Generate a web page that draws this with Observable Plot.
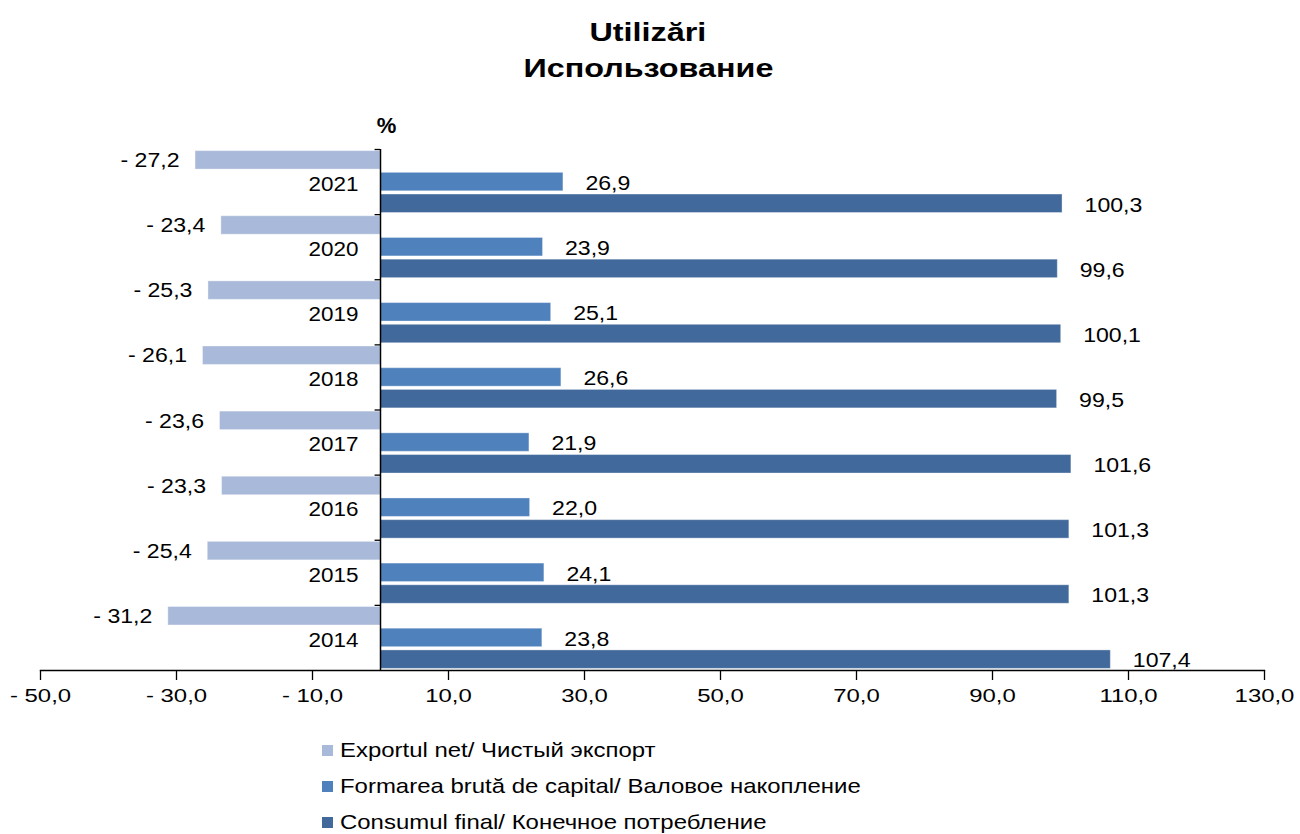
<!DOCTYPE html>
<html>
<head>
<meta charset="utf-8">
<script src="https://cdn.jsdelivr.net/npm/d3@7"></script>
<script src="https://cdn.jsdelivr.net/npm/@observablehq/plot@0.6"></script>
<style>
  html, body { margin: 0; padding: 0; background: #fff; }
  body { width: 1300px; height: 834px; overflow: hidden; font-family: "Liberation Sans", Arial, sans-serif; color: #000; }
  #title { padding-top: 14px; height: 81px; text-align: center; font-weight: bold; font-size: 26.5px; line-height: 36px; padding-right: 4px; }
  #title div span { display: inline-block; transform: scaleX(1.22); transform-origin: center; }
  #chart svg { display: block; }
  #legend { padding-left: 322px; padding-top: 17px; font-size: 21px; }
  .row { height: 36px; display: flex; align-items: center; }
  .sw { width: 11px; height: 11px; margin-right: 7px; flex: none; }
  .lt { display: inline-block; transform: scaleX(1.14); transform-origin: left center; white-space: nowrap; }
</style>
</head>
<body>
<div id="title"><div><span>Utilizări</span></div><div><span>Использование</span></div></div>
<div id="chart"></div>
<div id="legend"></div>
<script>
const years = [2021, 2020, 2019, 2018, 2017, 2016, 2015, 2014];
const exportNet = [-27.2, -23.4, -25.3, -26.1, -23.6, -23.3, -25.4, -31.2];
const grossCapital = [26.9, 23.9, 25.1, 26.6, 21.9, 22.0, 24.1, 23.8];
const finalConsumption = [100.3, 99.6, 100.1, 99.5, 101.6, 101.3, 101.3, 107.4];
const seriesKeys = ["E", "F", "C"];
const seriesLabels = [
  "Exportul net/ Чистый экспорт",
  "Formarea brută de capital/ Валовое накопление",
  "Consumul final/ Конечное потребление"
];
const seriesColors = ["#A9B9D9", "#4F81BD", "#41699B"];
const xTicks = [-50, -30, -10, 10, 30, 50, 70, 90, 110, 130];

const seriesValues = [exportNet, grossCapital, finalConsumption];
const data = [];
years.forEach((yr, i) => {
  seriesKeys.forEach((s, j) => {
    data.push({year: yr, s, key: yr + "|" + s, value: seriesValues[j][i]});
  });
});
const yDomain = data.map(d => d.key);
const fmt1 = v => d3.format(".1f")(Math.abs(v)).replace(".", ",");
const fmt = v => (v < 0 ? "- " : "") + fmt1(v);

const W = 1300, H = 620, mt = 54, mb = 45, ml = 40, mr = 36;
const step = (H - mt - mb) / yDomain.length;

const chart = Plot.plot({
  width: W, height: H,
  marginTop: mt, marginBottom: mb, marginLeft: ml, marginRight: mr,
  style: {fontFamily: "'Liberation Sans', Arial, sans-serif", fontSize: "20px", color: "#000", background: "#fff"},
  x: {domain: [-50, 130], axis: null},
  y: {domain: yDomain, axis: null, paddingInner: 0.15, paddingOuter: 0.075, round: false},
  color: {domain: seriesKeys, range: seriesColors},
  marks: [
    Plot.barX(data, {x: "value", y: "key", fill: "s", stroke: "white", strokeOpacity: 0.35, strokeWidth: 1}),
    Plot.ruleX([0], {stroke: "#000", strokeWidth: 1.5}),
    Plot.ruleY(years, {y: d => d + "|E", x1: -0.8, x2: 0, dy: -step / 2, stroke: "#000", strokeWidth: 1.3}),
    Plot.frame({anchor: "bottom", stroke: "#000", strokeWidth: 1.3}),
    Plot.axisX({ticks: xTicks, tickFormat: fmt, tickSize: 10, tickPadding: 9, fontSize: 18, stroke: "#000", strokeWidth: 1.3, fill: "#000", className: "xax"}),
    Plot.text(years, {x: () => 0, y: d => d + "|F", text: d => String(d), dx: -22, dy: 2, textAnchor: "end", fontSize: 21, fill: "#000", className: "yrs"}),
    Plot.text(data.filter(d => d.value < 0), {x: "value", y: "key", text: d => fmt(d.value), dx: -16, textAnchor: "end", fontSize: 21, fill: "#000", className: "vals"}),
    Plot.text(data.filter(d => d.value >= 0), {x: "value", y: "key", text: d => fmt(d.value), dx: 22, dy: 1, textAnchor: "start", fontSize: 21, fill: "#000", className: "vals"}),
    Plot.text([{x: 0, t: "%"}], {x: "x", text: "t", frameAnchor: "top", dy: -32, dx: 6, fontWeight: "bold", fontSize: 22, fill: "#000", className: "pct"})
  ]
});

// horizontal stretch of text glyphs to match the reference's wide lettering
function stretch(sel, s) {
  d3.select(chart).selectAll(sel).each(function() {
    const el = this;
    const t = el.getAttribute("transform");
    if (t) {
      el.setAttribute("transform", t + ` scale(${s},1)`);
    } else {
      const x = +(el.getAttribute("x") || 0), y = +(el.getAttribute("y") || 0);
      el.setAttribute("x", 0); el.setAttribute("y", 0);
      el.setAttribute("transform", `translate(${x},${y}) scale(${s},1)`);
    }
  });
}
stretch('[aria-label="x-axis tick label"] text', 1.33);
stretch('.yrs text', 1.07);
stretch('.vals text', 1.1);

document.getElementById("chart").appendChild(chart);

const legend = document.getElementById("legend");
seriesLabels.forEach((lab, i) => {
  const row = document.createElement("div");
  row.className = "row";
  const sw = document.createElement("span");
  sw.className = "sw";
  sw.style.background = chart.scale("color").apply(seriesKeys[i]);
  const t = document.createElement("span");
  t.className = "lt";
  t.textContent = lab;
  row.appendChild(sw); row.appendChild(t);
  legend.appendChild(row);
});
</script>
</body>
</html>
